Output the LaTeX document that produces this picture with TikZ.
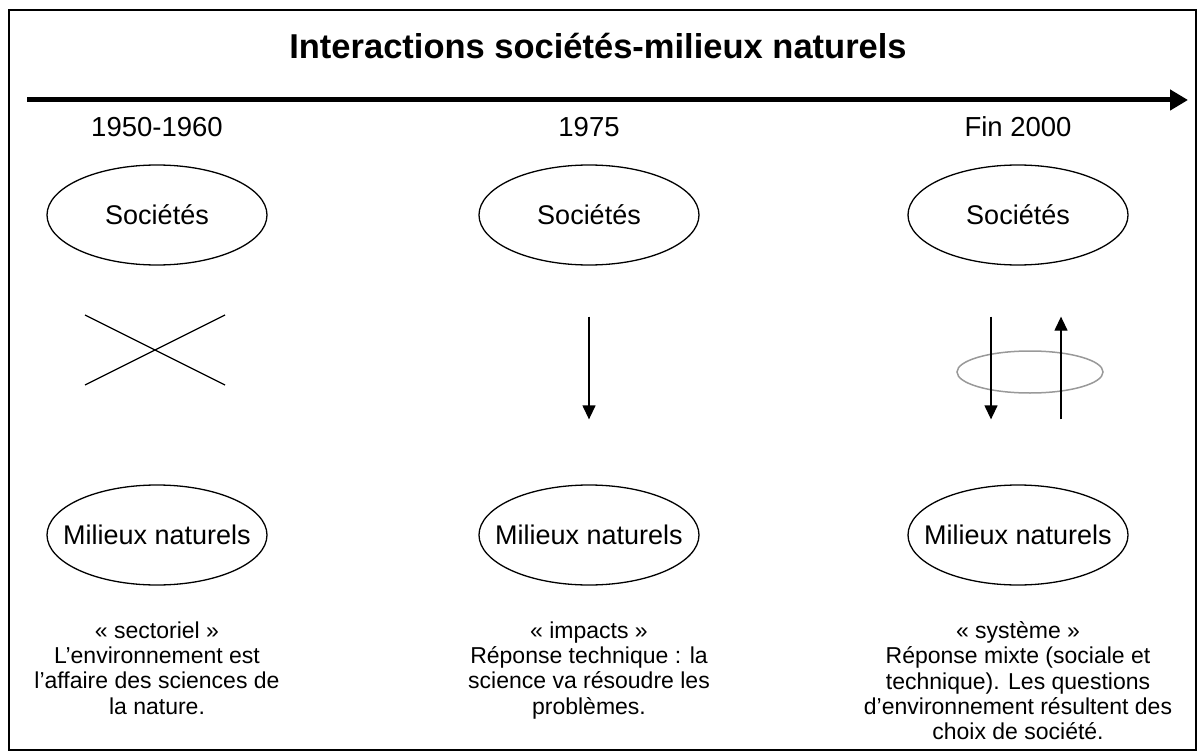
\documentclass[tikz,border=0pt]{standalone}
\usepackage{fontspec}
\setmainfont{Liberation Sans}
\usetikzlibrary{shapes.geometric,arrows.meta}

\begin{document}
\begin{tikzpicture}[x=1pt, y=-1pt,
	pole/.style={ellipse, draw, line width=1.3pt, minimum width=220pt, minimum height=100pt, inner xsep=-17pt, inner ysep=0pt, font=\fontsize{27}{30}\selectfont},
	period/.style={font=\fontsize{27.5}{30}\selectfont},
	verdict/.style={align=center, anchor=north, font=\fontsize{23}{25.3}\selectfont},
	flow/.style={line width=1.3pt, -{Triangle[length=14pt, width=13pt]}}]
	\useasboundingbox (0,0) rectangle (1198,751);

% frame and title
	\draw[line width=1.5pt] (9,10) rectangle (1196,750);
	\node[font=\bfseries\fontsize{34.5}{38}\selectfont] (title) at (598,46) {Interactions sociétés-milieux naturels};

% time axis
	\coordinate (t0) at (27,100);
	\coordinate (t1) at (1188,100);
	\draw[line width=5pt, -{Triangle[length=18pt, width=20pt]}] (t0) -- (t1);

% periods
	\node[period] (y1) at (157,127) {1950-1960};
	\node[period] (y2) at (589,127) {1975};
	\node[period] (y3) at (1018,127) {Fin 2000};

% societies and natural environments
	\node[pole] (soc1) at (157,215) {Sociétés};
	\node[pole] (soc2) at (589,215) {Sociétés};
	\node[pole] (soc3) at (1018,215) {Sociétés};
	\node[pole] (mil1) at (157,535) {Milieux naturels};
	\node[pole] (mil2) at (589,535) {Milieux naturels};
	\node[pole] (mil3) at (1018,535) {Milieux naturels};

% no link
	\draw[line width=1.2pt] (85,315) -- (225,385);
	\draw[line width=1.2pt] (85,385) -- (225,315);

% impacts
	\draw[flow] ([yshift=-51pt]soc2.south) -- ([yshift=65pt]mil2.north);

% system
	\draw[line width=1.5pt, gray!80] (1030,372) ellipse (73pt and 21pt);
	\draw[flow] ([xshift=-27pt, yshift=-51pt]soc3.south) -- ([xshift=-27pt, yshift=65pt]mil3.north);
	\draw[flow] ([xshift=43pt, yshift=65pt]mil3.north) -- ([xshift=43pt, yshift=-51pt]soc3.south);

% approaches
	\node[verdict] (v1) at (157,618) {« sectoriel »\\L’environnement est\\l’affaire des sciences de\\la nature.};
	\node[verdict] (v2) at (589,618) {« impacts »\\Réponse technique : la\\science va résoudre les\\problèmes.};
	\node[verdict] (v3) at (1018,618) {« système »\\Réponse mixte (sociale et\\technique). Les questions\\d’environnement résultent des\\choix de société.};

\end{tikzpicture}
\end{document}
